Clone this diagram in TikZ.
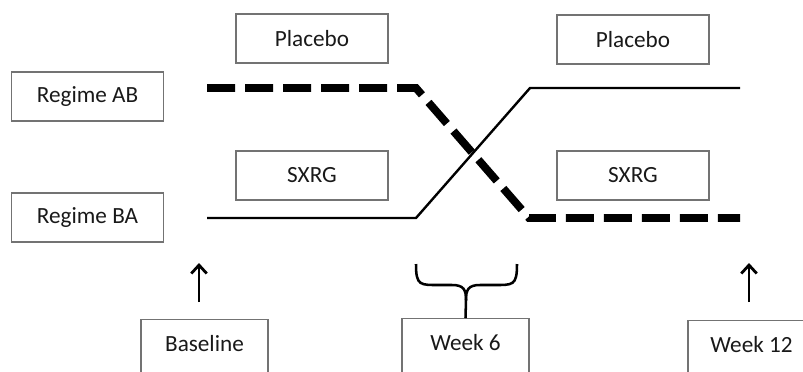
\documentclass[tikz,border=0pt]{standalone}
\usepackage{fontspec}
\setmainfont{Carlito}
\usetikzlibrary{arrows.meta,positioning}
\tikzset{
  box/.style={draw=black!55, line width=0.9pt, minimum width=3.8cm, minimum height=1.225cm, font=\fontsize{16.5}{19}\selectfont, text=black!90},
  lowbox/.style={box, minimum width=3.18cm, minimum height=1.5cm, anchor=north, text depth=0.3cm},
  thickdash/.style={line width=5.6pt, dash pattern=on 0.7cm off 0.25cm},
  thinline/.style={line width=1.7pt},
}
\begin{document}
\begin{tikzpicture}[x=0.025cm, y=-0.025cm]
			\useasboundingbox (0,0) rectangle (803,371);
			\clip (0,0) rectangle (803,371);
			% treatment and regime boxes
			\node [box] (plac1) at (312,38.5) {Placebo};
			\node [box] (sxrg1) at (312,175.5) {SXRG};
			\node [box] (plac2) at (633,39.5) {Placebo};
			\node [box] (sxrg2) at (633,175.5) {SXRG};
			\node [box] (regAB) at (87.5,96.5) {Regime AB};
			\node [box] (regBA) at (87.5,217.5) {Regime BA};
			% time points
			\node [lowbox] (base) at (204.5,319) {Baseline};
			\node [lowbox] (wk6) at (465.5,318) {Week 6};
			\node [lowbox] (wk12) at (751.5,320) {Week 12};
			% lines
			\coordinate (ab0) at (207,88);
			\coordinate (ab1) at (416,88);
			\coordinate (ab2) at (529,218);
			\coordinate (ab3) at (740,218);
			\coordinate (ba0) at (207,218);
			\coordinate (ba1) at (416,218);
			\coordinate (ba2) at (530,88);
			\coordinate (ba3) at (740,88);
			\draw [thinline] (ba0) -- (ba1) -- (ba2) -- (ba3);
			\draw [thickdash] (ab0) -- (ab1) -- (ab2) -- (ab3);
			% arrows and brace
			\coordinate (arr1) at (199,263);
			\coordinate (arr2) at (749,263);
			\draw [line width=2pt, -{Straight Barb[length=6pt,width=11pt]}] (arr1 |- 0,302) -- (arr1);
			\draw [line width=2pt, -{Straight Barb[length=6pt,width=11pt]}] (arr2 |- 0,302) -- (arr2);
			\draw [line width=1.8pt] (416,264) .. controls (416,286) and (420,285) .. (440,285) -- (452,285) .. controls (464,285) and (466,290) .. (466,300) -- (wk6.north);
			\draw [line width=1.8pt] (517,264) .. controls (517,286) and (513,285) .. (493,285) -- (480,285) .. controls (468,285) and (466,290) .. (466,300);
\end{tikzpicture}
\end{document}
